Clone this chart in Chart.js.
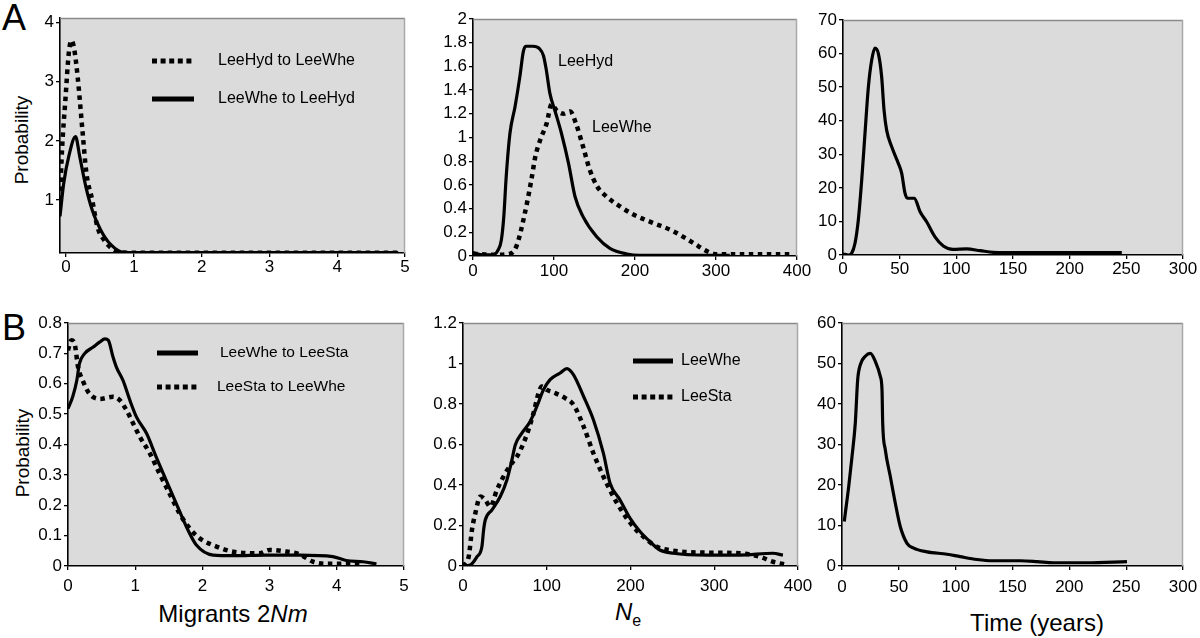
<!DOCTYPE html>
<html><head><meta charset="utf-8">
<script src="https://cdn.jsdelivr.net/npm/chart.js@4.4.0/dist/chart.umd.min.js"></script>
<style>
body{margin:0;width:1200px;height:638px;background:#fff;position:relative;overflow:hidden;font-family:"Liberation Sans",Arial,sans-serif;}
canvas{position:absolute;}
.t{position:absolute;color:#000;white-space:nowrap;line-height:1;}
.c{transform:translate(-50%,-50%);}
.r{transform:translate(-50%,-50%) rotate(-90deg);}
</style></head><body>
<div class="t" style="left:2px;top:0px;font-size:36px;">A</div>
<div class="t" style="left:2px;top:310px;font-size:36px;">B</div>
<div class="t r" style="left:21px;top:140px;font-size:19px;">Probability</div>
<div class="t r" style="left:22px;top:453px;font-size:19px;">Probability</div>
<div class="t c" style="left:233px;top:614px;font-size:24px;">Migrants 2<i>Nm</i></div>
<div class="t c" style="left:628px;top:614px;font-size:24px;"><i>N</i><sub style="font-size:16px;vertical-align:-6px;">e</sub></div>
<div class="t c" style="left:1037px;top:623px;font-size:24px;">Time (years)</div>
<script>
// ---------- Tick labels ----------
const a1XTicks = [0, 1, 2, 3, 4, 5];
const a1YTicks = [1, 2, 3, 4];
const a2XTicks = [0, 100, 200, 300, 400];
const a2YTicks = [0, 0.2, 0.4, 0.6, 0.8, 1, 1.2, 1.4, 1.6, 1.8, 2];
const a3XTicks = [0, 50, 100, 150, 200, 250, 300];
const a3YTicks = [0, 10, 20, 30, 40, 50, 60, 70];
const b1XTicks = [0, 1, 2, 3, 4, 5];
const b1YTicks = [0, 0.1, 0.2, 0.3, 0.4, 0.5, 0.6, 0.7, 0.8];
const b2XTicks = [0, 100, 200, 300, 400];
const b2YTicks = [0, 0.2, 0.4, 0.6, 0.8, 1, 1.2];
const b3XTicks = [0, 50, 100, 150, 200, 250, 300];
const b3YTicks = [0, 10, 20, 30, 40, 50, 60];

// ---------- Series names ----------
const a1Names = ["LeeHyd to LeeWhe", "LeeWhe to LeeHyd"];
const a2Names = ["LeeHyd", "LeeWhe"];
const b1Names = ["LeeWhe to LeeSta", "LeeSta to LeeWhe"];
const b2Names = ["LeeWhe", "LeeSta"];

// ---------- A1: migrants 2Nm ----------
const a1HydWheX = [-0.09, -0.06, -0.01, 0.04, 0.08, 0.12, 0.17, 0.24, 0.30, 0.385, 0.46, 0.56, 0.71, 0.9, 1.2, 2, 3, 4, 4.9];
const a1HydWheY = [1.0, 1.85, 2.7, 3.49, 3.7, 3.55, 3.09, 2.19, 1.45, 1.0, 0.55, 0.32, 0.15, 0.105, 0.105, 0.105, 0.105, 0.105, 0.105];
const a1WheHydX = [-0.09, -0.035, 0.04, 0.14, 0.2, 0.29, 0.385, 0.51, 0.66, 0.85, 1.2, 2, 3, 4, 4.9];
const a1WheHydY = [0.72, 1.28, 1.74, 2.07, 1.74, 1.23, 0.83, 0.49, 0.24, 0.11, 0.105, 0.105, 0.105, 0.105, 0.105];

// ---------- A2: Ne ----------
const a2HydX = [0, 12, 25, 31, 35, 38, 41, 45.7, 51.9, 58, 62, 65, 74, 82, 87, 90.5, 95, 101, 109, 118, 126, 136, 153, 169, 190, 206, 260, 317];
const a2HydY = [0.03, 0.01, 0.01, 0.05, 0.135, 0.33, 0.67, 1.04, 1.26, 1.52, 1.72, 1.77, 1.77, 1.75, 1.69, 1.57, 1.37, 1.23, 1.04, 0.78, 0.50, 0.33, 0.16, 0.065, 0.017, 0.005, 0.005, 0.005];
const a2WheX = [0, 25, 46, 54, 64, 72, 77, 83, 91, 97, 103, 112, 120, 127, 136, 144, 153, 165, 181, 198, 222, 247, 272, 289, 301, 391];
const a2WheY = [0.02, 0.01, 0.02, 0.09, 0.36, 0.64, 0.84, 0.98, 1.12, 1.28, 1.23, 1.2, 1.22, 1.12, 0.92, 0.73, 0.59, 0.50, 0.42, 0.35, 0.28, 0.21, 0.11, 0.04, 0.015, 0.015];

// ---------- A3: time (years) ----------
const a3TimeX = [0, 5, 7.6, 10.6, 13.5, 16.5, 19.4, 22.4, 25.3, 28.2, 31.2, 34.1, 36.2, 38.5, 42.9, 48.8, 51.8, 54.7, 56.8, 63, 68, 73.8, 81, 88.5, 97, 109, 121, 132.6, 156, 200, 246];
const a3TimeY = [0.3, 0, 0.5, 3.5, 10.4, 22.3, 36.2, 50.1, 58, 61.6, 60, 53.1, 43.2, 37.2, 32.3, 27.3, 24.3, 18.4, 16.9, 16.9, 12.9, 9.9, 5.5, 2.7, 1.7, 1.8, 1.3, 0.8, 0.7, 0.7, 0.7];

// ---------- B1: migrants 2Nm ----------
const b1WheStaX = [0, 0.07, 0.13, 0.17, 0.25, 0.37, 0.47, 0.55, 0.6, 0.67, 0.72, 0.82, 0.92, 1.02, 1.17, 1.31, 1.46, 1.61, 1.76, 1.91, 2.16, 2.45, 2.95, 3.45, 3.94, 4.14, 4.39, 4.59];
const b1WheStaY = [0.518, 0.557, 0.61, 0.666, 0.70, 0.72, 0.737, 0.748, 0.743, 0.688, 0.655, 0.61, 0.546, 0.49, 0.436, 0.36, 0.283, 0.206, 0.13, 0.069, 0.036, 0.034, 0.036, 0.036, 0.031, 0.018, 0.014, 0.007];
const b1StaWheX = [0, 0.05, 0.1, 0.15, 0.22, 0.32, 0.47, 0.67, 0.77, 0.87, 0.97, 1.07, 1.22, 1.36, 1.51, 1.66, 1.81, 1.96, 2.21, 2.46, 2.85, 3.0, 3.2, 3.45, 3.65, 3.89, 4.34];
const b1StaWheY = [0.71, 0.743, 0.73, 0.655, 0.61, 0.567, 0.55, 0.557, 0.546, 0.513, 0.469, 0.425, 0.37, 0.305, 0.239, 0.173, 0.124, 0.091, 0.064, 0.047, 0.042, 0.053, 0.049, 0.038, 0.014, 0.007, 0.007];

// ---------- B2: Ne ----------
const b2WheX = [0, 8.7, 16.7, 22.6, 24.6, 26.6, 34.6, 44.5, 52.4, 58.4, 62.4, 70.3, 80.2, 88.2, 96.1, 104, 116, 124, 132, 144, 155.7, 167.6, 175.6, 187.5, 199.4, 211.3, 223.2, 235, 251, 290.8, 330.5, 370, 382];
const b2WheY = [0, 0.005, 0.046, 0.096, 0.178, 0.227, 0.277, 0.343, 0.425, 0.524, 0.598, 0.656, 0.714, 0.788, 0.87, 0.92, 0.953, 0.975, 0.944, 0.837, 0.722, 0.557, 0.409, 0.326, 0.236, 0.17, 0.12, 0.079, 0.063, 0.054, 0.054, 0.063, 0.054];
const b2StaX = [0, 6.8, 10.7, 14.7, 20.7, 26.6, 32.6, 40.5, 50.5, 58.4, 64.4, 72.3, 78.2, 84.2, 90.2, 94.1, 100, 110, 122, 132, 144, 155.7, 167.6, 179.5, 191.5, 203.4, 215.3, 231, 251, 290.8, 330.5, 354, 370, 388];
const b2StaY = [0, 0.046, 0.178, 0.26, 0.343, 0.326, 0.293, 0.376, 0.458, 0.508, 0.54, 0.607, 0.673, 0.755, 0.854, 0.887, 0.87, 0.854, 0.829, 0.796, 0.689, 0.557, 0.442, 0.343, 0.26, 0.194, 0.145, 0.096, 0.076, 0.066, 0.063, 0.046, 0.021, 0.005];

// ---------- B3: time (years) ----------
const b3TimeX = [2, 2.9, 5.9, 8.8, 11.7, 13.8, 16.1, 20.5, 25, 29.3, 33.7, 35.2, 35.8, 38.1, 42.5, 46.9, 51.3, 57.2, 63, 74.8, 92.4, 104, 118.8, 133, 157, 171.6, 186, 215.5, 250.7];
const b3TimeY = [11, 13, 19.6, 27, 35.3, 46, 49.7, 51.8, 52.5, 50.5, 46.8, 43.5, 35.3, 28.7, 22.1, 15.5, 9.7, 5.6, 4.4, 3.5, 2.9, 2.3, 1.6, 1.3, 1.3, 1.1, 0.8, 0.8, 1.1];

// ---------- layout (page pixels) ----------
const FONT = '"Liberation Sans", Arial, sans-serif';
const panels = [
  {L:60, T:18, R:405, B:253, xMin:-0.09, xMax:5, yMin:0.1, yMax:4.08, xTicks:a1XTicks, yTicks:a1YTicks, xPad:0,
   series:[{name:a1Names[0], x:a1HydWheX, y:a1HydWheY, dotted:true}, {name:a1Names[1], x:a1WheHydX, y:a1WheHydY, dotted:false}],
   notes:[{kind:'dot', x1:152, x2:194, y:61, tx:218, text:a1Names[0], size:16}, {kind:'solid', x1:152, x2:194, y:99, tx:218, text:a1Names[1], size:16}]},
  {L:473, T:19, R:797, B:256, xMin:0, xMax:400, yMin:0, yMax:2, xTicks:a2XTicks, yTicks:a2YTicks, xPad:1,
   series:[{name:a2Names[0], x:a2HydX, y:a2HydY, dotted:false}, {name:a2Names[1], x:a2WheX, y:a2WheY, dotted:true}],
   notes:[{kind:'none', y:62, tx:558, text:a2Names[0], size:16}, {kind:'none', y:128, tx:592, text:a2Names[1], size:16}]},
  {L:843, T:20, R:1183, B:255, xMin:0, xMax:300, yMin:0, yMax:70, xTicks:a3XTicks, yTicks:a3YTicks, xPad:0,
   series:[{name:'Time', x:a3TimeX, y:a3TimeY, dotted:false}], notes:[]},
  {L:68, T:323, R:404, B:566, xMin:0, xMax:5, yMin:0, yMax:0.8, xTicks:b1XTicks, yTicks:b1YTicks, xPad:6,
   series:[{name:b1Names[0], x:b1WheStaX, y:b1WheStaY, dotted:false}, {name:b1Names[1], x:b1StaWheX, y:b1StaWheY, dotted:true}],
   notes:[{kind:'solid', x1:157, x2:198, y:353, tx:220, text:b1Names[0], size:15.5}, {kind:'dot', x1:157, x2:198, y:387, tx:217, text:b1Names[1], size:15.5}]},
  {L:463, T:323, R:798, B:566, xMin:0, xMax:400, yMin:0, yMax:1.2, xTicks:b2XTicks, yTicks:b2YTicks, xPad:6,
   series:[{name:b2Names[0], x:b2WheX, y:b2WheY, dotted:false}, {name:b2Names[1], x:b2StaX, y:b2StaY, dotted:true}],
   notes:[{kind:'solid', x1:633, x2:673, y:361, tx:681, text:b2Names[0], size:16}, {kind:'dot', x1:633, x2:673, y:397, tx:681, text:b2Names[1], size:16}]},
  {L:842, T:323, R:1183, B:566, xMin:0, xMax:300, yMin:0, yMax:60, xTicks:b3XTicks, yTicks:b3YTicks, xPad:7,
   series:[{name:'Time', x:b3TimeX, y:b3TimeY, dotted:false}], notes:[]}
];

function makeDecor(p, ox, oy) {
  return {
    id: 'panelDecor',
    beforeDraw(chart) {
      const {ctx, chartArea: a} = chart;
      ctx.save();
      ctx.fillStyle = '#dbdbdb';
      ctx.fillRect(a.left, a.top, a.right - a.left, a.bottom - a.top);
      ctx.restore();
    },
    beforeDatasetsDraw(chart) {
      const {ctx, chartArea: a} = chart;
      ctx.save();
      ctx.lineWidth = 1.5;
      ctx.strokeStyle = '#8a8a8a';
      ctx.beginPath(); ctx.moveTo(a.left, a.top + 0.5); ctx.lineTo(a.right, a.top + 0.5); ctx.stroke();
      ctx.strokeStyle = '#a8a8a8';
      ctx.beginPath(); ctx.moveTo(a.right - 0.5, a.top); ctx.lineTo(a.right - 0.5, a.bottom); ctx.stroke();
      ctx.restore();
    },
    afterDatasetsDraw(chart) {
      const ctx = chart.ctx;
      ctx.save();
      p.notes.forEach(n => {
        if (n.kind !== 'none') {
          ctx.strokeStyle = '#000';
          ctx.lineWidth = 5;
          ctx.lineCap = 'butt';
          ctx.setLineDash(n.kind === 'dot' ? [5, 3.6] : []);
          ctx.beginPath(); ctx.moveTo(n.x1 - ox, n.y - oy); ctx.lineTo(n.x2 - ox, n.y - oy); ctx.stroke();
          ctx.setLineDash([]);
        }
        ctx.fillStyle = '#000';
        ctx.font = n.size + 'px ' + FONT;
        ctx.textBaseline = 'middle';
        ctx.textAlign = 'left';
        ctx.fillText(n.text, n.tx - ox, n.y - oy);
      });
      ctx.restore();
    }
  };
}

const PADT = 15, PADR = 22, YW = 60, XH = 34;
panels.forEach(p => {
  const cv = document.createElement('canvas');
  const left = p.L - YW, top = p.T - PADT;
  const w = p.R - p.L + YW + PADR, h = p.B - p.T + PADT + XH;
  cv.width = w; cv.height = h;
  cv.style.left = left + 'px'; cv.style.top = top + 'px';
  cv.style.width = w + 'px'; cv.style.height = h + 'px';
  document.body.appendChild(cv);
  const tickFont = {family: FONT, size: 17};
  new Chart(cv, {
    type: 'line',
    data: {
      datasets: p.series.map(s => ({
        label: s.name,
        data: s.x.map((v, i) => ({x: v, y: s.y[i]})),
        borderColor: '#000',
        borderWidth: s.dotted ? 4.5 : 3.2,
        borderDash: s.dotted ? [4.5, 4.5] : [],
        borderCapStyle: 'butt',
        borderJoinStyle: 'round',
        pointRadius: 0,
        cubicInterpolationMode: 'monotone',
        fill: false
      }))
    },
    options: {
      responsive: false,
      animation: false,
      devicePixelRatio: 1,
      layout: {padding: {top: PADT, right: PADR, left: 0, bottom: 0}},
      plugins: {legend: {display: false}, tooltip: {enabled: false}},
      scales: {
        x: {
          type: 'linear', min: p.xMin, max: p.xMax,
          afterFit: s => { s.height = XH; },
          afterBuildTicks: s => { s.ticks = p.xTicks.map(v => ({value: v})); },
          grid: {drawOnChartArea: false, drawTicks: true, tickLength: 4, color: '#000', lineWidth: 1.3},
          border: {color: '#000', width: 1.6},
          ticks: {autoSkip: false, maxRotation: 0, padding: p.xPad, color: '#000', font: tickFont, callback: v => String(v)}
        },
        y: {
          type: 'linear', min: p.yMin, max: p.yMax,
          afterFit: s => { s.width = YW; },
          afterBuildTicks: s => { s.ticks = p.yTicks.map(v => ({value: v})); },
          grid: {drawOnChartArea: false, drawTicks: true, tickLength: 4, color: '#000', lineWidth: 1.3},
          border: {color: '#000', width: 1.6},
          ticks: {autoSkip: false, padding: 2, color: '#000', font: tickFont, callback: v => String(v)}
        }
      }
    },
    plugins: [makeDecor(p, left, top)]
  });
});
</script>
</body></html>
